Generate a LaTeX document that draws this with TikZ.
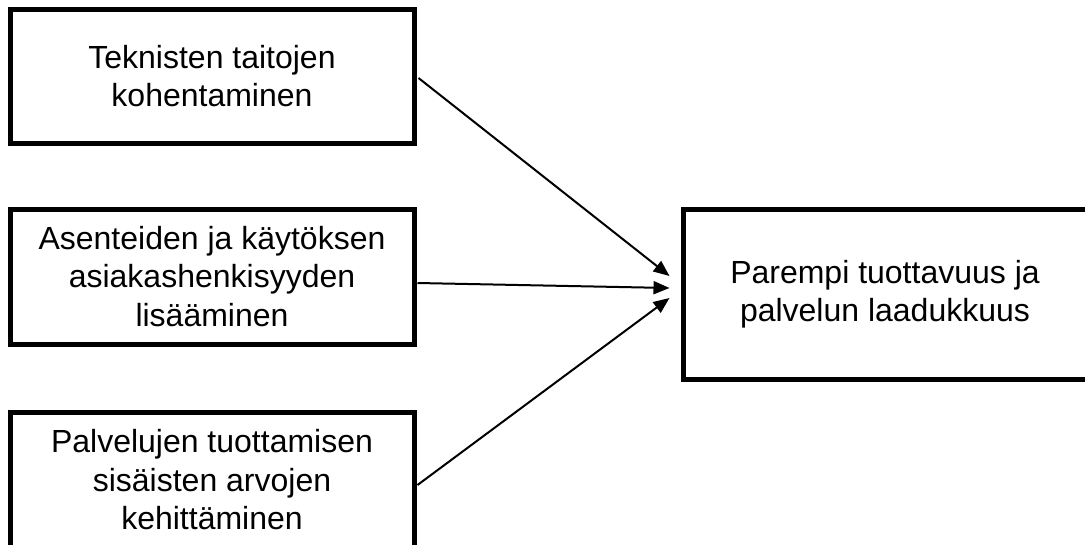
\documentclass[tikz,border=0pt]{standalone}
\usepackage{fontspec}
\setmainfont{Liberation Sans}
\usetikzlibrary{arrows.meta,calc}
\begin{document}
\begin{tikzpicture}[x=1pt,y=-1pt,
  box/.style={draw,line width=5pt,minimum width=404pt,minimum height=134pt,align=center,
    font=\fontsize{32}{38.5}\selectfont,inner sep=0pt},
  conn/.style={line width=2pt,-{Triangle[length=16pt,width=13pt]}}]
\useasboundingbox (0,0) rectangle (1085,544);
\node[box] (b1) at (212,76) {Teknisten taitojen\\kohentaminen};
\node[box,minimum height=135pt] (b2) at (212,276.5) {Asenteiden ja käytöksen\\asiakashenkisyyden\\lisääminen};
\node[box,minimum height=135pt] (b3) at (212,480) {Palvelujen tuottamisen\\sisäisten arvojen\\kehittäminen};
\node[box,minimum height=170pt] (b4) at (885,294) {Parempi tuottavuus ja\\palvelun laadukkuus};
\draw[conn] ($(b1.east)+(2,2)$) -- ($(b4.west)+(-11,-18)$);
\draw[conn] ($(b2.east)+(1,6.5)$) -- ($(b4.west)+(-11,-6)$);
\draw[conn] ($(b3.east)+(1,5)$) -- ($(b4.west)+(-11,4)$);
\end{tikzpicture}
\end{document}
